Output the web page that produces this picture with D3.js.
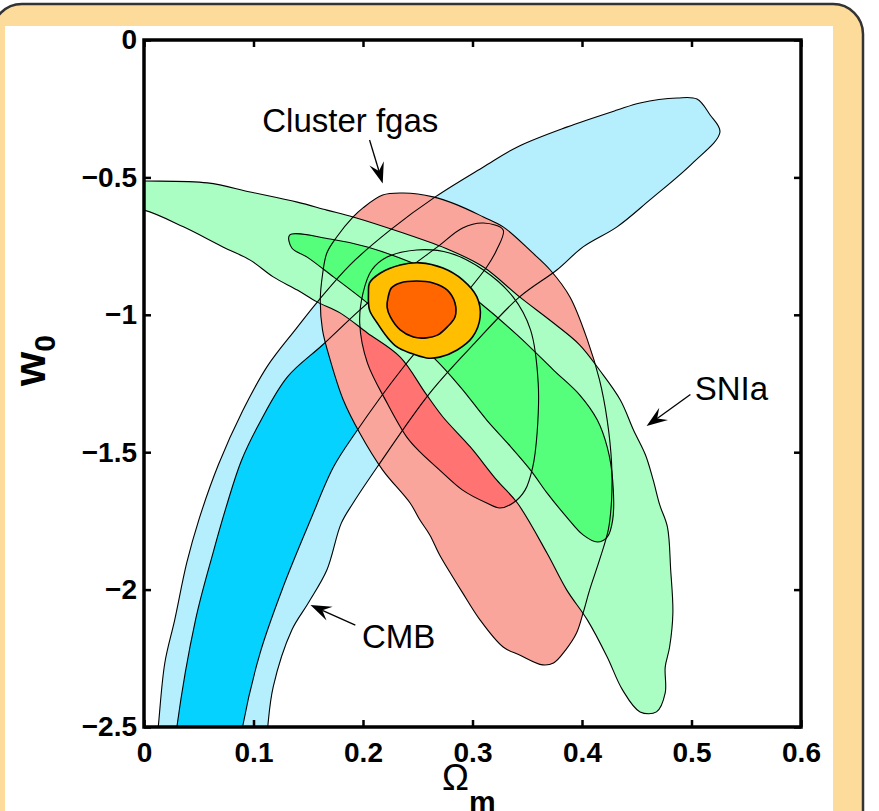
<!DOCTYPE html>
<html>
<head>
<meta charset="utf-8">
<script src="https://cdn.jsdelivr.net/npm/d3@7"></script>
<style>
  body { margin: 0; background: #fff; }
  svg { display: block; }
</style>
</head>
<body>
<div id="chart"></div>
<script>
// contour polygons, [Omega_m, w0]; ends run past the plot edges and are clipped
var cmbOuter = [
  [0.010,-2.62],[0.013,-2.5],[0.019,-2.267],[0.028,-2.111],[0.039,-1.903],[0.050,-1.747],[0.068,-1.545],
  [0.090,-1.350],[0.113,-1.185],[0.139,-1.050],[0.159,-0.950],[0.188,-0.819],[0.225,-0.691],
  [0.266,-0.571],[0.310,-0.462],[0.341,-0.389],[0.386,-0.317],[0.432,-0.255],[0.453,-0.229],
  [0.487,-0.211],[0.505,-0.215],[0.517,-0.273],[0.526,-0.335],[0.501,-0.448],[0.462,-0.582],
  [0.432,-0.680],[0.401,-0.753],[0.377,-0.837],[0.343,-0.935],[0.302,-1.103],[0.261,-1.285],
  [0.213,-1.554],[0.191,-1.685],[0.180,-1.760],[0.167,-1.929],[0.150,-2.049],[0.135,-2.147],
  [0.118,-2.354],[0.113,-2.5],[0.111,-2.62]
];
var cmbInner = [
  [0.027,-2.62],[0.030,-2.5],[0.047,-2.111],[0.063,-1.867],[0.075,-1.700],[0.089,-1.530],[0.106,-1.390],
  [0.131,-1.226],[0.163,-1.110],[0.197,-0.983],[0.234,-0.855],[0.268,-0.753],[0.291,-0.684],
  [0.310,-0.666],[0.328,-0.691],[0.322,-0.764],[0.313,-0.826],[0.275,-1.012],[0.237,-1.190],
  [0.193,-1.430],[0.173,-1.554],[0.152,-1.747],[0.127,-1.991],[0.106,-2.231],[0.090,-2.5],[0.086,-2.62]
];
var fgasOuter = [
  [0.191,-0.644],[0.200,-0.611],[0.218,-0.564],[0.237,-0.557],[0.264,-0.571],[0.286,-0.600],
  [0.310,-0.644],[0.328,-0.680],[0.355,-0.775],[0.371,-0.837],[0.389,-0.935],[0.405,-1.092],
  [0.416,-1.237],[0.423,-1.383],[0.427,-1.539],[0.427,-1.674],[0.424,-1.783],[0.416,-1.892],
  [0.407,-2.001],[0.401,-2.085],[0.395,-2.158],[0.385,-2.220],[0.374,-2.267],[0.364,-2.274],
  [0.343,-2.238],[0.328,-2.209],[0.307,-2.111],[0.291,-2.012],[0.282,-1.954],[0.270,-1.874],
  [0.261,-1.801],[0.252,-1.747],[0.243,-1.685],[0.218,-1.565],[0.197,-1.430],[0.182,-1.310],
  [0.170,-1.164],[0.163,-1.055],[0.161,-0.946],[0.163,-0.855],[0.167,-0.775],[0.176,-0.717]
];
var fgasInner = [
  [0.197,-1.030],[0.200,-0.921],[0.208,-0.837],[0.222,-0.790],[0.249,-0.764],[0.279,-0.775],
  [0.310,-0.837],[0.337,-0.935],[0.353,-1.055],[0.360,-1.248],[0.359,-1.430],[0.355,-1.554],
  [0.348,-1.638],[0.337,-1.685],[0.325,-1.703],[0.313,-1.685],[0.291,-1.638],[0.270,-1.565],
  [0.252,-1.499],[0.240,-1.445],[0.222,-1.321],[0.204,-1.175]
];
var snOuter = [
  [-0.03,-0.512],[0.000,-0.513],[0.058,-0.520],[0.097,-0.553],[0.140,-0.590],[0.167,-0.619],[0.191,-0.644],
  [0.234,-0.699],[0.279,-0.764],[0.310,-0.826],[0.343,-0.935],[0.374,-1.030],[0.398,-1.110],
  [0.416,-1.201],[0.435,-1.310],[0.447,-1.419],[0.458,-1.510],[0.465,-1.601],[0.471,-1.692],
  [0.478,-1.772],[0.481,-1.929],[0.483,-2.085],[0.480,-2.209],[0.476,-2.282],[0.476,-2.376],
  [0.468,-2.445],[0.453,-2.445],[0.437,-2.365],[0.423,-2.245],[0.405,-2.111],[0.386,-2.001],
  [0.368,-1.867],[0.341,-1.685],[0.322,-1.601],[0.298,-1.481],[0.273,-1.372],[0.257,-1.285],
  [0.234,-1.154],[0.204,-1.066],[0.179,-0.993],[0.158,-0.953],[0.140,-0.910],[0.118,-0.862],
  [0.097,-0.801],[0.072,-0.753],[0.036,-0.680],[0.000,-0.619],[-0.03,-0.605]
];
var snInner = [
  [0.133,-0.710],[0.170,-0.724],[0.204,-0.753],[0.243,-0.808],[0.279,-0.873],[0.307,-0.957],
  [0.341,-1.074],[0.374,-1.201],[0.398,-1.292],[0.414,-1.383],[0.423,-1.481],[0.428,-1.601],
  [0.428,-1.747],[0.423,-1.809],[0.414,-1.827],[0.401,-1.801],[0.386,-1.736],[0.368,-1.648],
  [0.353,-1.565],[0.332,-1.467],[0.313,-1.383],[0.289,-1.263],[0.264,-1.154],[0.234,-1.055],
  [0.197,-0.935],[0.173,-0.862],[0.149,-0.790],[0.135,-0.757]
];
var allOuter = [
  [0.205,-0.921],[0.206,-0.884],[0.216,-0.848],[0.234,-0.819],[0.252,-0.811],[0.273,-0.830],
  [0.291,-0.873],[0.304,-0.935],[0.307,-1.008],[0.300,-1.081],[0.286,-1.128],[0.270,-1.154],
  [0.258,-1.157],[0.243,-1.139],[0.231,-1.117],[0.222,-1.081],[0.213,-1.030],[0.206,-0.983]
];
var allInner = [
  [0.223,-0.935],[0.226,-0.902],[0.234,-0.884],[0.249,-0.877],[0.264,-0.884],[0.277,-0.910],
  [0.284,-0.957],[0.284,-1.008],[0.277,-1.044],[0.268,-1.074],[0.258,-1.084],[0.246,-1.081],
  [0.234,-1.055],[0.225,-1.008],[0.222,-0.972]
];

var xTicks = [0, 0.1, 0.2, 0.3, 0.4, 0.5, 0.6];
var xTickLabels = ['0', '0.1', '0.2', '0.3', '0.4', '0.5', '0.6'];
var yTicks = [0, -0.5, -1, -1.5, -2, -2.5];
var yTickLabels = ['0', '\u22120.5', '\u22121', '\u22121.5', '\u22122', '\u22122.5'];

// labels: text start/baseline, arrow start and tip, all in [Omega_m, w0]
var notes = [
  { text: 'Cluster fgas', at: [0.108, -0.335], from: [0.206, -0.364], to: [0.218, -0.522] },
  { text: 'SNIa', at: [0.503, -1.310], from: [0.499, -1.290], to: [0.459, -1.405] },
  { text: 'CMB', at: [0.199, -2.212], from: [0.193, -2.129], to: [0.152, -2.056] }
];

var chart_width = 879;
var chart_height = 811;
var svg = d3.select('#chart')
  .append('svg')
  .attr('width', chart_width)
  .attr('height', chart_height);

// frame
svg.append('rect')
  .attr('x', -8).attr('y', 4)
  .attr('width', 871).attr('height', 860)
  .attr('rx', 30)
  .attr('fill', '#fddc9b')
  .attr('stroke', '#333')
  .attr('stroke-width', 2.5);
svg.append('rect')
  .attr('x', 5).attr('y', 26)
  .attr('width', 828).attr('height', 800)
  .attr('fill', '#fff');

var x_scale = d3.scaleLinear().domain([0, 0.6]).range([144, 801]);
var y_scale = d3.scaleLinear().domain([-2.5, 0]).range([727, 40]);

svg.append('clipPath').attr('id', 'plotclip')
  .append('rect')
  .attr('x', x_scale(0)).attr('y', y_scale(0))
  .attr('width', x_scale(0.6) - x_scale(0))
  .attr('height', y_scale(-2.5) - y_scale(0));

var line = d3.line()
  .x(function(d){ return x_scale(d[0]); })
  .y(function(d){ return y_scale(d[1]); })
  .curve(d3.curveCatmullRomClosed.alpha(0.5));

var plot = svg.append('g').attr('clip-path', 'url(#plotclip)');

var layers = [
  { pts: cmbOuter, fill: '#b5eefc' },
  { pts: cmbInner, fill: '#05d2fe' },
  { pts: fgasOuter, fill: '#f9a59b' },
  { pts: fgasInner, fill: '#ff7373' },
  { pts: snOuter, fill: '#aafec3' },
  { pts: snInner, fill: '#55fe7b' }
];

plot.selectAll('path.fill')
  .data(layers)
  .enter()
  .append('path')
  .attr('class', 'fill')
  .attr('d', function(d){ return line(d.pts); })
  .attr('fill', function(d){ return d.fill; })
  .attr('stroke', 'none');

plot.selectAll('path.edge')
  .data(layers)
  .enter()
  .append('path')
  .attr('class', 'edge')
  .attr('d', function(d){ return line(d.pts); })
  .attr('fill', 'none')
  .attr('stroke', '#000')
  .attr('stroke-width', 1.1)
  .attr('stroke-linejoin', 'round');

// combined constraint on top
plot.append('path')
  .attr('d', line(allOuter))
  .attr('fill', '#ffbf00')
  .attr('stroke', '#000')
  .attr('stroke-width', 1.6);
plot.append('path')
  .attr('d', line(allInner))
  .attr('fill', '#ff6600')
  .attr('stroke', '#000')
  .attr('stroke-width', 1.6);

// axes
var font = "'Liberation Sans', Arial, Helvetica, sans-serif";

var xAxis = svg.append('g')
  .attr('transform', 'translate(0,' + y_scale(-2.5) + ')')
  .call(d3.axisBottom(x_scale).tickValues(xTicks)
    .tickFormat(function(d, i){ return xTickLabels[i]; })
    .tickSizeInner(-7).tickSizeOuter(0).tickPadding(15));
var yAxis = svg.append('g')
  .attr('transform', 'translate(' + x_scale(0) + ',0)')
  .call(d3.axisLeft(y_scale).tickValues(yTicks)
    .tickFormat(function(d, i){ return yTickLabels[i]; })
    .tickSizeInner(-7).tickSizeOuter(0).tickPadding(7));
var xTop = svg.append('g')
  .attr('transform', 'translate(0,' + y_scale(0) + ')')
  .call(d3.axisTop(x_scale).tickValues(xTicks).tickFormat('')
    .tickSizeInner(-7).tickSizeOuter(0));
var yRight = svg.append('g')
  .attr('transform', 'translate(' + x_scale(0.6) + ',0)')
  .call(d3.axisRight(y_scale).tickValues(yTicks).tickFormat('')
    .tickSizeInner(-7).tickSizeOuter(0));

[xAxis, yAxis, xTop, yRight].forEach(function(g){
  g.select('.domain').remove();
  g.selectAll('line').attr('stroke', '#000').attr('stroke-width', 2.5);
  g.selectAll('text')
    .attr('fill', '#000')
    .style('font-family', font)
    .style('font-weight', 'bold')
    .style('font-size', '28px');
});

svg.append('rect')
  .attr('x', x_scale(0)).attr('y', y_scale(0))
  .attr('width', x_scale(0.6) - x_scale(0))
  .attr('height', y_scale(-2.5) - y_scale(0))
  .attr('fill', 'none')
  .attr('stroke', '#000')
  .attr('stroke-width', 3.5);

// axis titles
var yl = svg.append('text')
  .attr('transform', 'translate(45,386) rotate(-90)')
  .style('font-family', font)
  .style('font-weight', 'bold')
  .style('font-size', '44px');
yl.append('tspan').text('w');
yl.append('tspan').attr('dy', 10).style('font-size', '30px').text('0');

var xl = svg.append('text')
  .attr('x', 442).attr('y', 790)
  .style('font-family', font)
  .style('font-size', '36px');
xl.append('tspan').text('\u03A9');
xl.append('tspan').attr('dy', 22).style('font-weight', 'bold').style('font-size', '30px').text('m');

// annotations
svg.selectAll('text.note')
  .data(notes)
  .enter()
  .append('text')
  .attr('class', 'note')
  .attr('x', function(d){ return x_scale(d.at[0]); })
  .attr('y', function(d){ return y_scale(d.at[1]); })
  .style('font-family', font)
  .style('font-size', '33px')
  .text(function(d){ return d.text; });

notes.forEach(function(d){
  var x1 = x_scale(d.from[0]), y1 = y_scale(d.from[1]);
  var x2 = x_scale(d.to[0]), y2 = y_scale(d.to[1]);
  var a = Math.atan2(y2 - y1, x2 - x1);
  var len = 21, half = 7.5, notch = 13;
  var bx = x2 - len * Math.cos(a), by = y2 - len * Math.sin(a);
  var nx = x2 - notch * Math.cos(a), ny = y2 - notch * Math.sin(a);
  svg.append('line')
    .attr('x1', x1).attr('y1', y1)
    .attr('x2', nx).attr('y2', ny)
    .attr('stroke', '#000').attr('stroke-width', 1.3);
  svg.append('path')
    .attr('d', 'M' + x2 + ',' + y2 +
      'L' + (bx - half * Math.sin(a)) + ',' + (by + half * Math.cos(a)) +
      'L' + nx + ',' + ny +
      'L' + (bx + half * Math.sin(a)) + ',' + (by - half * Math.cos(a)) + 'Z')
    .attr('fill', '#000');
});
</script>
</body>
</html>
